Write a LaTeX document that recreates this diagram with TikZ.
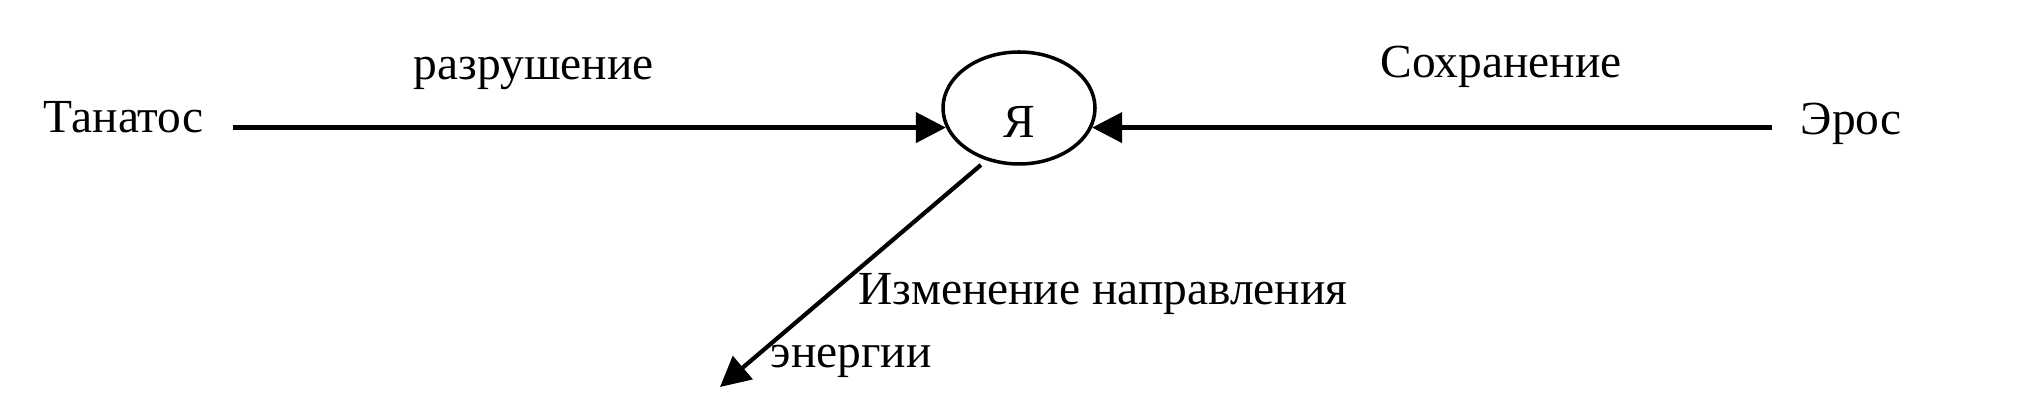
\documentclass[tikz,border=0pt]{standalone}
\usepackage{fontspec}
\setmainfont{Liberation Serif}
\usepackage{tikz}
\usetikzlibrary{shapes.geometric, arrows.meta, positioning}

\begin{document}
\begin{tikzpicture}[
    term/.style={inner xsep=0.28cm, inner ysep=0, anchor=base west, font=\fontsize{13.5}{16}\selectfont},
    lbl/.style={inner sep=0, anchor=base west, font=\fontsize{13.5}{16}\selectfont},
    ego/.style={ellipse, draw, line width=1pt, minimum width=1.52cm, minimum height=1.12cm, inner sep=0, text height=0.6cm, text depth=0cm, font=\fontsize{13.5}{16}\selectfont},
    arr/.style={-{Triangle[length=0.3cm, width=0.3cm]}, line width=1.2pt},
]
    \useasboundingbox (0,0) rectangle (20.36,-4.02);

    % Centre: the ellipse
    \node[ego] (ya) at (10.19, -1.08) {Я};

    % Left and right ends of the axis
    \node[term] (tanatos) at (0.15, -1.33) {Танатос};
    \node[term] (eros)    at (17.72, -1.35) {Эрос};

    % Labels over the axis
    \node[lbl] (razr)  at (4.13, -0.80) {разрушение};
    \node[lbl] (sokhr) at (13.80, -0.78) {Сохранение};

    % Label of the lower arrow, two lines
    \node[lbl] (izm)   at (8.58, -3.05) {Изменение направления};
    \node[lbl] (energ) at (7.70, -3.68) {энергии};
    \coordinate (sink) at (7.20, -3.87);

    % Arrows into the ellipse
    \draw[arr] (tanatos.east |- ya.195) -- (ya.195);
    \draw[arr] (eros.west |- ya.-15) -- (ya.-15);

    % Arrow out of the ellipse
    \draw[arr, shorten <=2pt] (ya.238) -- (sink);
\end{tikzpicture}
\end{document}
